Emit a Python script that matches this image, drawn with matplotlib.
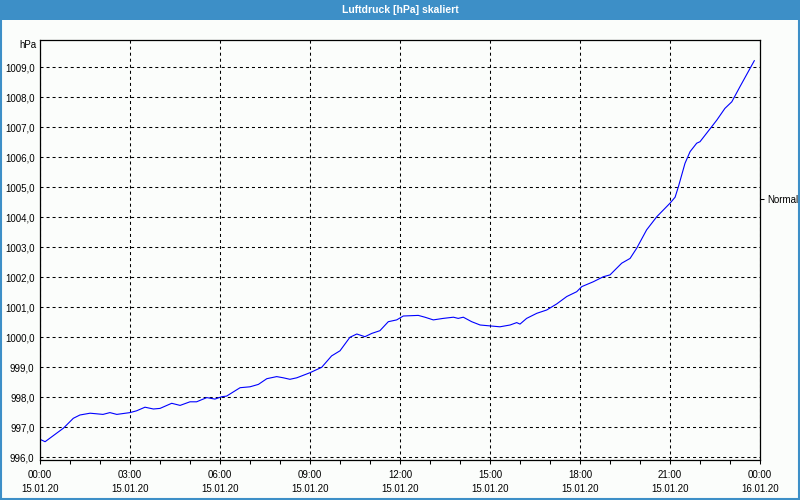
import pandas as pd
import matplotlib
matplotlib.use('Agg')
import matplotlib.pyplot as plt
import matplotlib.dates as mdates
import matplotlib.ticker as mtick
from matplotlib.patches import Rectangle

# hours after 15.01.20 00:00 and pressure in hPa
hours = [0.00, 0.17, 0.78, 1.11, 1.33, 1.67, 2.10, 2.33, 2.56, 3.00,
         3.22, 3.50, 3.78, 4.00, 4.39, 4.67, 5.00, 5.22, 5.56, 5.83,
         6.06, 6.22, 6.67, 7.00, 7.28, 7.56, 7.89, 8.11, 8.33, 8.56,
         9.00, 9.39, 9.72, 10.00, 10.33, 10.56, 10.83, 11.06, 11.33, 11.61,
         11.89, 12.11, 12.61, 12.83, 13.11, 13.44, 13.78, 13.94, 14.11, 14.39,
         14.67, 15.00, 15.33, 15.67, 15.89, 16.00, 16.22, 16.56, 16.89, 17.22,
         17.56, 17.89, 18.06, 18.44, 18.78, 19.00, 19.39, 19.67, 19.89, 20.22,
         20.56, 21.00, 21.17, 21.28, 21.50, 21.67, 21.89, 22.00, 22.39, 22.56,
         22.83, 23.06, 23.33, 23.81]
pressure = [996.60, 996.52, 996.97, 997.30, 997.41, 997.47, 997.43, 997.49, 997.43, 997.49,
            997.55, 997.67, 997.61, 997.63, 997.80, 997.73, 997.85, 997.85, 997.99, 997.94,
            998.02, 998.04, 998.32, 998.35, 998.43, 998.62, 998.69, 998.65, 998.60, 998.65,
            998.82, 999.00, 999.38, 999.55, 1000.00, 1000.11, 1000.02, 1000.13, 1000.22, 1000.52,
            1000.58, 1000.71, 1000.73, 1000.67, 1000.58, 1000.63, 1000.67, 1000.63, 1000.67, 1000.52,
            1000.41, 1000.38, 1000.35, 1000.41, 1000.49, 1000.44, 1000.63, 1000.80, 1000.91, 1001.11,
            1001.36, 1001.52, 1001.69, 1001.85, 1002.02, 1002.08, 1002.47, 1002.63, 1002.97, 1003.58,
            1004.02, 1004.47, 1004.67, 1005.02, 1005.80, 1006.19, 1006.47, 1006.52, 1007.02, 1007.24,
            1007.63, 1007.85, 1008.35, 1009.22]
normal_level = 1004.6
y_ticks = list(range(996, 1010))

start = pd.Timestamp('2020-01-15 00:00')
times = start + pd.to_timedelta(hours, unit='h')

plt.rcParams['font.family'] = ['Liberation Sans', 'DejaVu Sans']
bg = '#fbfdfb'
frame_blue = '#3d8fc7'

fig = plt.figure(figsize=(8, 5), dpi=100, facecolor=bg)
ax = fig.add_axes([0.05, 0.08, 0.90, 0.84], facecolor=bg)

ax.plot(times, pressure, color='#0000ff', lw=0.8)

ax.set_xlim(start, start + pd.Timedelta(hours=24))
ax.set_ylim(995.91, 1009.91)

ax.xaxis.set_major_locator(mdates.HourLocator(byhour=range(0, 24, 3)))
ax.xaxis.set_minor_locator(mdates.HourLocator())
ax.xaxis.set_major_formatter(mdates.DateFormatter('%H:%M\n%d.%m.%y'))
ax.set_yticks(y_ticks)
ax.yaxis.set_major_formatter(mtick.FuncFormatter(lambda v, p: f'{v:.1f}'.replace('.', ',')))

ax.grid(True, which='major', color='black', lw=0.75, linestyle=(0, (2.9, 2.9)))
ax.tick_params(axis='x', which='both', direction='out', length=3, width=0.75,
               labelsize=7, pad=4, colors='black')
ax.tick_params(axis='y', length=0, labelsize=7, pad=4)
for lbl in ax.get_xticklabels():
    lbl.set_linespacing(1.5)
for s in ax.spines.values():
    s.set_linewidth(0.9)
    s.set_color('black')

ax.text(-0.005, 1.0, 'hPa', transform=ax.transAxes, ha='right', va='top', fontsize=7)

sec = ax.secondary_yaxis('right')
sec.set_yticks([normal_level], labels=['Normal'])
sec.tick_params(length=3, width=0.75, labelsize=7, pad=2)
sec.spines['right'].set_visible(False)

# window title bar and frame
fig.patches.append(Rectangle((0, 0.96), 1, 0.04, transform=fig.transFigure,
                             facecolor=frame_blue, edgecolor='none', zorder=0))
fig.patches.append(Rectangle((0.0012, 0.002), 0.9976, 0.997, transform=fig.transFigure,
                             facecolor='none', edgecolor=frame_blue, lw=1.5, zorder=1))
fig.text(0.5, 0.98, 'Luftdruck [hPa] skaliert', color='white', weight='bold',
         fontsize=7.5, ha='center', va='center')

fig.savefig('out.png', dpi=100, facecolor=bg)
